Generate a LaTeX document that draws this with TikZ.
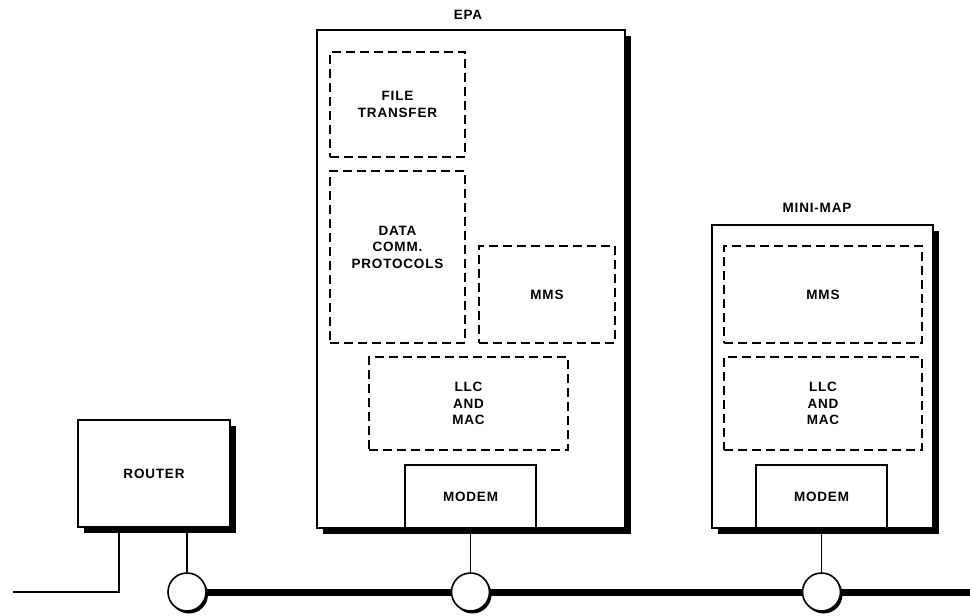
\documentclass[tikz,border=0pt]{standalone}
\usepackage{fontspec}
\newfontfamily\lblfont{Liberation Sans}[LetterSpace=6]
\usetikzlibrary{shadows}
\begin{document}
\begin{tikzpicture}[x=1pt,y=-1pt]
\tikzset{
  lbl/.style={font=\lblfont\bfseries\fontsize{13.5}{16.5}\selectfont, align=center},
  unit/.style={draw, line width=1.4pt, fill=white, inner sep=0pt, outer sep=0pt, lbl,
    drop shadow={shadow xshift=6pt, shadow yshift=-6pt, opacity=1, fill=black}},
  layer/.style={draw, dash pattern=on 9pt off 5pt, line width=1.8pt, inner sep=0pt, outer sep=0pt, lbl},
  modembox/.style={draw, line width=1.4pt, fill=white, inner sep=0pt, outer sep=0pt, lbl},
  tap/.style={circle, draw, line width=1.6pt, fill=white, minimum size=38pt, inner sep=0pt,
    drop shadow={shadow xshift=2pt, shadow yshift=-2.5pt, opacity=1, fill=black}},
  bus/.style={line width=7pt},
  wire/.style={line width=1.4pt}
}
\useasboundingbox (0,0) rectangle (970,616);

% EPA station
\node[unit, minimum width=308pt, minimum height=498pt] (epa) at (471,279) {};
\node[lbl] (epatitle) at (468,15) {EPA};
\node[layer, minimum width=135pt, minimum height=105pt] (file) at (397.5,104.5) {FILE\\TRANSFER};
\node[layer, minimum width=135pt, minimum height=172pt,
      label={[lbl, yshift=10pt]center:{DATA\\COMM.\\PROTOCOLS}}] (data) at (397.5,257) {};
\node[layer, minimum width=136pt, minimum height=97pt] (mmsA) at (547,294.5) {MMS};
\node[layer, minimum width=199pt, minimum height=93pt] (llcA) at (468.5,403.5) {LLC\\AND\\MAC};
\node[modembox, minimum width=131pt, minimum height=63pt] (modemA) at (470.5,496.5) {MODEM};

% MINI-MAP station
\node[unit, minimum width=221pt, minimum height=303pt] (mini) at (822.5,376.5) {};
\node[lbl] (minititle) at (817,208) {MINI-MAP};
\node[layer, minimum width=198pt, minimum height=97pt] (mmsB) at (823,294.5) {MMS};
\node[layer, minimum width=198pt, minimum height=93pt] (llcB) at (823,403.5) {LLC\\AND\\MAC};
\node[modembox, minimum width=131pt, minimum height=63pt] (modemB) at (821.5,496.5) {MODEM};

% Router
\node[unit, minimum width=152pt, minimum height=107pt] (router) at (154,473.5) {ROUTER};

% Bus taps
\coordinate (busend) at (970,592);
\coordinate (lanend) at (13,592);
\draw[bus] (187,592) -- (busend);
\node[tap] (c1) at (187,592) {};
\node[tap] (c2) at (470.5,592) {};
\node[tap] (c3) at (821.5,592) {};

% Drops
\draw[wire] (router.south -| c1) -- (c1.north);
\draw[wire] (modemA.south) -- (c2.north);
\draw[wire] (modemB.south) -- (c3.north);
\draw[wire] ([xshift=41pt]router.south west) |- (lanend);
\end{tikzpicture}
\end{document}
